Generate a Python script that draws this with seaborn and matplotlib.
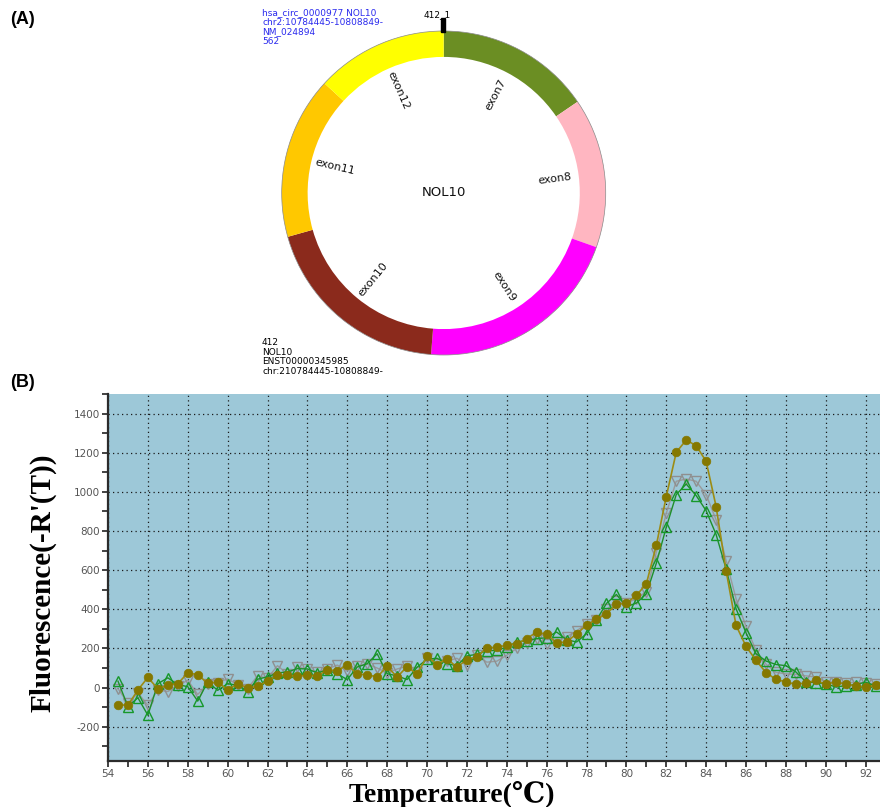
import numpy as np
import matplotlib
matplotlib.use("Agg")
import matplotlib.pyplot as plt
from matplotlib.patches import Circle, Rectangle
from matplotlib.ticker import MultipleLocator
import seaborn as sns

plt.rcParams["axes.unicode_minus"] = False

# ---------------- circRNA structure (panel A) ----------------
exon_names = ["exon7", "exon8", "exon9", "exon10", "exon11", "exon12"]
exon_len = [87, 84, 117, 109, 91, 74]
exon_colors = ["#6B8E23", "#FFB6C1", "#FF00FF", "#8B2A1C", "#FFC800", "#FFFF00"]
circ_info = ["hsa_circ_0000977 NOL10", "chr2:10784445-10808849-", "NM_024894", "562"]
iso_info = ["412", "NOL10", "ENST00000345985", "chr:210784445-10808849-"]
gene_name = "NOL10"
junction_label = "412_1"

# ---------------- melt curves (panel B) ----------------
temps = [54.5, 55.0, 55.5, 56.0, 56.5, 57.0, 57.5, 58.0, 58.5, 59.0,
         59.5, 60.0, 60.5, 61.0, 61.5, 62.0, 62.5, 63.0, 63.5, 64.0,
         64.5, 65.0, 65.5, 66.0, 66.5, 67.0, 67.5, 68.0, 68.5, 69.0,
         69.5, 70.0, 70.5, 71.0, 71.5, 72.0, 72.5, 73.0, 73.5, 74.0,
         74.5, 75.0, 75.5, 76.0, 76.5, 77.0, 77.5, 78.0, 78.5, 79.0,
         79.5, 80.0, 80.5, 81.0, 81.5, 82.0, 82.5, 83.0, 83.5, 84.0,
         84.5, 85.0, 85.5, 86.0, 86.5, 87.0, 87.5, 88.0, 88.5, 89.0,
         89.5, 90.0, 90.5, 91.0, 91.5, 92.0, 92.5, 93.0]

melt_olive = [-88, -90, -12, 52, -6, 12, 20, 75, 66, 22,
              29, -12, 20, -2, 6, 34, 63, 63, 58, 63,
              58, 92, 85, 117, 68, 66, 54, 109, 54, 107,
              68, 160, 118, 148, 104, 143, 158, 202, 207, 216,
              224, 250, 284, 272, 229, 233, 275, 318, 350, 377,
              425, 431, 471, 530, 726, 976, 1202, 1265, 1236, 1156,
              925, 598, 318, 211, 139, 77, 42, 29, 17, 24,
              37, 17, 29, 17, 8, 3, 12, 28]

melt_green = [33, -97, -52, -141, 20, 50, 15, 5, -69, 30,
              -14, 20, 12, -20, 43, 55, 75, 80, 97, 95,
              75, 90, 70, 41, 105, 122, 173, 71, 60, 41,
              104, 145, 150, 122, 112, 162, 170, 188, 190, 207,
              233, 240, 250, 255, 284, 245, 233, 275, 345, 430,
              476, 413, 432, 479, 635, 819, 986, 1040, 981, 904,
              782, 607, 403, 280, 173, 136, 118, 112, 80, 30,
              25, 20, 3, 10, 15, 28, 8, 10]

melt_gray = [-5, -80, -28, -90, -12, -20, 8, 38, -35, 18,
             25, 45, 15, -5, 60, 48, 112, 70, 105, 95,
             80, 95, 115, 85, 110, 120, 100, 75, 95, 110,
             80, 150, 120, 135, 150, 115, 165, 130, 135, 165,
             200, 230, 250, 225, 235, 260, 290, 325, 345, 400,
             440, 430, 455, 490, 690, 890, 1054, 1066, 1054, 986,
             857, 649, 454, 313, 190, 120, 78, 70, 68, 60,
             54, 30, 28, 25, 27, 22, 20, 15]

W, H = 880, 807
fig = plt.figure(figsize=(W / 100, H / 100), dpi=100)


def fpos(x, y):
    """Pixel position (from top-left) to figure fraction."""
    return x / W, 1 - y / H


# ---------------- panel A: exon ring ----------------
cx, cy, R = 443.7, 193.0, 162.0
axc = fig.add_axes([(cx - R) / W, 1 - (cy + R) / H, 2 * R / W, 2 * R / H])
axc.pie(exon_len, colors=exon_colors, startangle=90, counterclock=False,
        radius=1.0, wedgeprops=dict(width=0.16, edgecolor="none"))
axc.set_xlim(-1, 1)
axc.set_ylim(-1, 1)
axc.set_aspect("equal")
axc.axis("off")
axc.add_patch(Circle((0, 0), 1.0, fill=False, ec="#8a8a8a", lw=0.5, clip_on=False))

total = sum(exon_len)
start = 0.0
for name, length in zip(exon_names, exon_len):
    mid = (start + length / 2) / total * 360.0
    start += length
    th = np.deg2rad(mid)
    rot = 90.0 - mid
    while rot <= -90:
        rot += 180
    axc.text(0.69 * np.sin(th), 0.69 * np.cos(th), name, rotation=rot,
             rotation_mode="anchor", ha="center", va="center",
             fontsize=8, family="DejaVu Sans", color="#111111")

axc.text(0, 0, gene_name, ha="center", va="center", fontsize=9.5,
         family="DejaVu Sans", color="#111111")

# back-splice junction tick
axc.add_patch(Rectangle((-0.0185, 0.996), 0.028, 0.082, color="black", clip_on=False))
fig.text(*fpos(437, 15), junction_label, ha="center", va="center", fontsize=6.5,
         family="DejaVu Sans", color="black")

for i, line in enumerate(circ_info):
    fig.text(*fpos(262, 12.3 + 9.8 * i), line, ha="left", va="center", fontsize=6.5,
             family="DejaVu Sans", color="#2a2aee")
for i, line in enumerate(iso_info):
    fig.text(*fpos(262, 342.3 + 9.8 * i), line, ha="left", va="center", fontsize=6.5,
             family="DejaVu Sans", color="black")

fig.text(*fpos(10, 20), "(A)", ha="left", va="center", fontsize=13,
         fontweight="bold", family="Liberation Sans")
fig.text(*fpos(10, 383), "(B)", ha="left", va="center", fontsize=13,
         fontweight="bold", family="Liberation Sans")

# ---------------- panel B: melt curves ----------------
ax = fig.add_axes([108 / W, 1 - 761 / H, 772 / W, 367 / H])
ax.set_facecolor("#9DC8D8")

sns.lineplot(x=temps, y=melt_gray, ax=ax, sort=False, color="#9a9a9a", linewidth=1.0,
             marker="v", markersize=7, markerfacecolor="none",
             markeredgecolor="#8f8f8f", markeredgewidth=1.0)
sns.lineplot(x=temps, y=melt_green, ax=ax, sort=False, color="#1f8f2a", linewidth=1.0,
             marker="^", markersize=7, markerfacecolor="none",
             markeredgecolor="#16982a", markeredgewidth=1.0)
sns.lineplot(x=temps, y=melt_olive, ax=ax, sort=False, color="#9c8c14", linewidth=1.2,
             marker="o", markersize=6.2, markerfacecolor="#857800",
             markeredgecolor="#857800", markeredgewidth=0.5)

ax.set_xlim(54, 92.72)
ax.set_ylim(-375, 1500)
ax.xaxis.set_major_locator(MultipleLocator(2))
ax.xaxis.set_minor_locator(MultipleLocator(1))
ax.yaxis.set_major_locator(MultipleLocator(200))
ax.yaxis.set_minor_locator(MultipleLocator(100))
ax.set_yticks([-200, 0, 200, 400, 600, 800, 1000, 1200, 1400])
ax.set_xticks(list(range(54, 93, 2)))

ax.grid(True, which="major", color="#1a1a1a", linestyle=(0, (1, 2.6)), linewidth=0.9)
ax.set_axisbelow(True)

for s in ["top", "right"]:
    ax.spines[s].set_visible(False)
for s in ["left", "bottom"]:
    ax.spines[s].set_color("#2b2b2b")
    ax.spines[s].set_linewidth(1.6)

ax.tick_params(which="both", direction="out", length=4, width=1.2, color="#222222",
               labelsize=7.5, labelcolor="#555555", pad=2)

serif = ["Liberation Serif", "DejaVu Serif", "DejaVu Sans"]
ax.set_xlabel("Temperature(\u2103)", family=serif, fontweight="bold", fontsize=20)
ax.xaxis.set_label_coords(0.445, -0.0926)
ax.xaxis.label.set_va("center")
ax.set_ylabel("Fluorescence(-R'(T))", family=serif, fontweight="bold", fontsize=21)
ax.yaxis.set_label_coords(-0.0846, 0.486)
ax.yaxis.label.set_va("center")

fig.savefig("out.png", dpi=100)
